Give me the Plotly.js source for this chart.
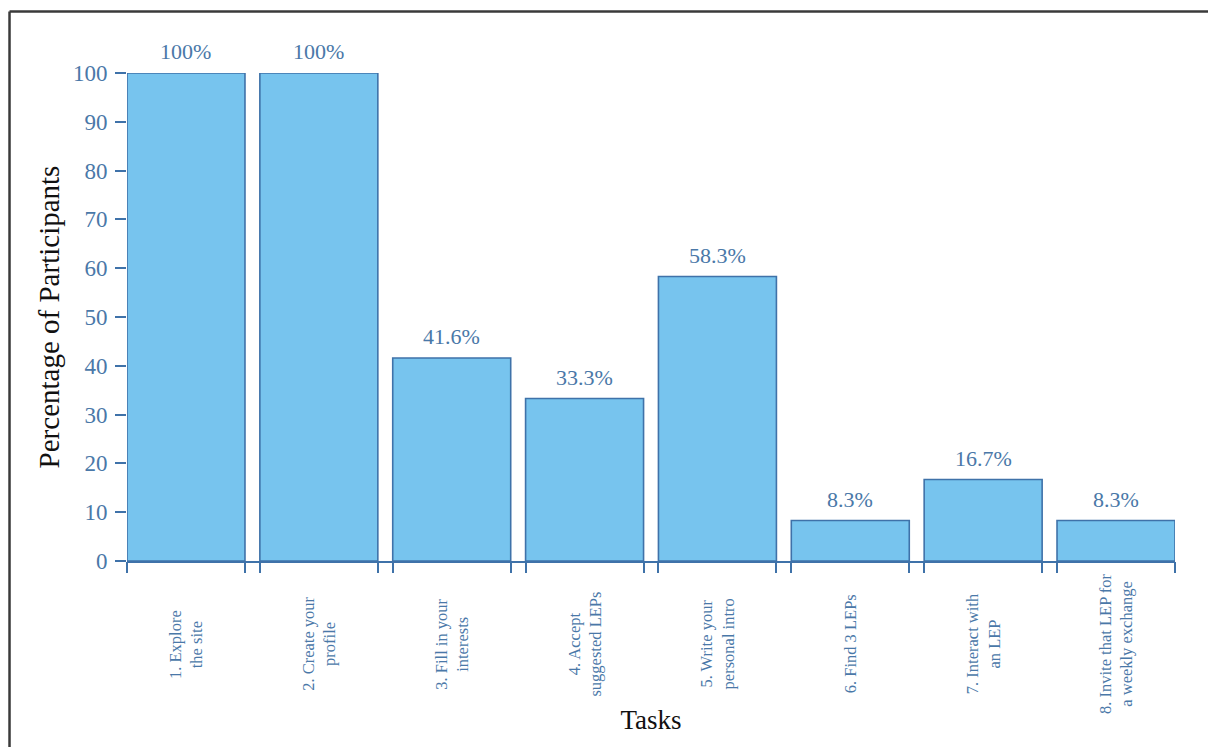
<!DOCTYPE html>
<html>
<head>
<meta charset="utf-8">
<script src="https://cdn.plot.ly/plotly-3.0.1.min.js"></script>
<style>
  html, body { margin: 0; padding: 0; background: #ffffff; }
  #chart { width: 1208px; height: 747px; }
</style>
</head>
<body>
<div id="chart"></div>
<script>
// ---- data ----
const categories = [
  "1. Explore<br>the site",
  "2. Create your<br>profile",
  "3. Fill in your<br>interests",
  "4. Accept<br>suggested LEPs",
  "5. Write your<br>personal intro",
  "6. Find 3 LEPs",
  "7. Interact with<br>an LEP",
  "8. Invite that LEP for<br>a weekly exchange"
];
const values = [100, 100, 41.6, 33.3, 58.3, 8.3, 16.7, 8.3];
const valueLabels = ["100%", "100%", "41.6%", "33.3%", "58.3%", "8.3%", "16.7%", "8.3%"];
const yTickVals = [0, 10, 20, 30, 40, 50, 60, 70, 80, 90, 100];
const yTitle = "Percentage of Participants";
const xTitle = "Tasks";

// ---- style ----
const SERIF = "Liberation Serif, Times New Roman, serif";
const BLUE_TEXT = "#4a78a8";
const BAR_FILL = "#77c4ee";
const BAR_LINE = "#3f72a9";
const BARGAP = 0.112;
const half = (1 - BARGAP) / 2;
const xRange = [-half, categories.length - 1 + half];

// tick positions at the bar edges (secondary axis)
const edgeTicks = [];
categories.forEach((c, i) => { edgeTicks.push(i - half, i + half); });

const barTrace = {
  type: "bar",
  x: categories,
  y: values,
  marker: { color: BAR_FILL, line: { color: BAR_LINE, width: 1.6 } },
  hoverinfo: "skip",
  showlegend: false
};

const helperTrace = {
  type: "scatter", mode: "markers",
  x: [], y: [], xaxis: "x2", yaxis: "y",
  hoverinfo: "skip", showlegend: false
};

const annotations = [];
categories.forEach((c, i) => {
  // value labels above bars
  annotations.push({
    x: c, y: values[i], xref: "x", yref: "y",
    text: valueLabels[i], showarrow: false,
    yanchor: "bottom", xanchor: "center", yshift: 7,
    font: { family: SERIF, size: 22, color: BLUE_TEXT }
  });
  // category labels below axis (rotated, centred)
  annotations.push({
    x: c, y: 0, xref: "x", yref: "paper",
    text: c, showarrow: false, textangle: -90,
    xanchor: "center", yanchor: "middle", align: "center",
    yshift: -83,
    font: { family: SERIF, size: 16.5, color: BLUE_TEXT }
  });
});

const layout = {
  width: 1208, height: 747,
  margin: { l: 127, r: 33, t: 73, b: 186, pad: 0 },
  paper_bgcolor: "#ffffff",
  plot_bgcolor: "#ffffff",
  bargap: BARGAP,
  showlegend: false,
  xaxis: {
    type: "category",
    range: xRange,
    showticklabels: false,
    ticks: "",
    showline: true, linecolor: BAR_LINE, linewidth: 2,
    showgrid: false, zeroline: false,
    fixedrange: true,
    title: { text: xTitle, font: { family: SERIF, size: 27, color: "#111111" }, standoff: 148 }
  },
  xaxis2: {
    type: "linear",
    overlaying: "x", anchor: "y", side: "bottom",
    range: xRange,
    tickvals: edgeTicks,
    showticklabels: false,
    ticks: "outside", ticklen: 11, tickwidth: 2, tickcolor: BAR_LINE,
    showline: false, showgrid: false, zeroline: false,
    fixedrange: true
  },
  yaxis: {
    range: [0, 100],
    tickvals: yTickVals,
    ticks: "outside", ticklen: 11, tickwidth: 2, tickcolor: BAR_LINE,
    tickfont: { family: SERIF, size: 23, color: BLUE_TEXT },
    ticklabelstandoff: 3,
    showline: false, showgrid: false, zeroline: false,
    fixedrange: true,
    title: { text: yTitle, font: { family: SERIF, size: 29, color: "#111111" }, standoff: 4 }
  },
  annotations: annotations,
  shapes: [
    { type: "line", xref: "paper", yref: "paper",
      x0: -0.1121, x1: 1.2, y0: 1.126, y1: 1.126,
      line: { color: "#3a3a3a", width: 2.5 } },
    { type: "line", xref: "paper", yref: "paper",
      x0: -0.1121, x1: -0.1121, y0: 1.126, y1: -0.5,
      line: { color: "#3a3a3a", width: 2.5 } }
  ]
};

Plotly.newPlot("chart", [barTrace, helperTrace], layout, { displayModeBar: false, staticPlot: true });
</script>
</body>
</html>
